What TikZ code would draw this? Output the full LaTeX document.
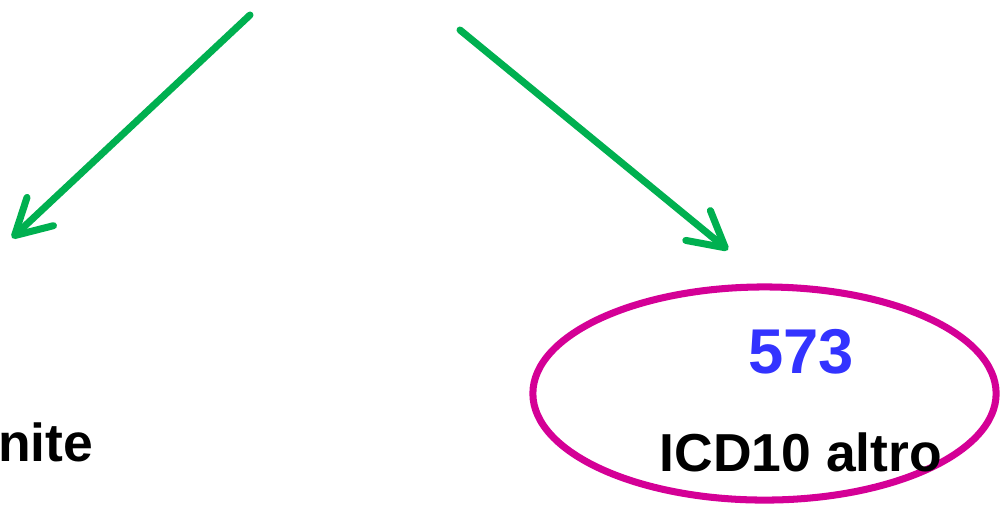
\documentclass[tikz,border=0pt]{standalone}
\usepackage{fontspec}
\setmainfont{Liberation Sans}
\usetikzlibrary{arrows.meta,shapes.geometric}
\definecolor{arrgreen}{RGB}{0,176,80}
\definecolor{ellmag}{RGB}{212,0,150}
\definecolor{numblue}{RGB}{51,51,255}
\tikzset{
  greenarrow/.style={draw=arrgreen, line width=2pt, line cap=round,
    -{Straight Barb[length=10pt,width=11pt,round]}},
  lbl/.style={font=\fontsize{15.2}{18}\selectfont\bfseries, text=black, inner sep=0pt},
  numlbl/.style={font=\fontsize{18}{21}\selectfont\bfseries, text=numblue, inner sep=0pt},
  ring/.style={ellipse, draw=ellmag, line width=2pt, inner sep=0pt,
    minimum width=4.63cm, minimum height=2.13cm}
}
\begin{document}
\begin{tikzpicture}[x=0.01cm,y=-0.01cm]
\useasboundingbox (0,0) rectangle (1000,505);
\coordinate (s1) at (250,15);
\coordinate (e1) at (12,238);
\coordinate (s2) at (460,30);
\coordinate (e2) at (728,250);
\draw[greenarrow] (s1) -- (e1);
\draw[greenarrow] (s2) -- (e2);
\node[ring] (ring) at (764.5,393.5) {};
\node[numlbl, anchor=base] (num) at (801,373) {573};
\node[lbl, anchor=base] (icd) at (801,471) {ICD10 altro};
\node[lbl, anchor=base east] (nite) at (94,461) {nite};
\end{tikzpicture}
\end{document}
